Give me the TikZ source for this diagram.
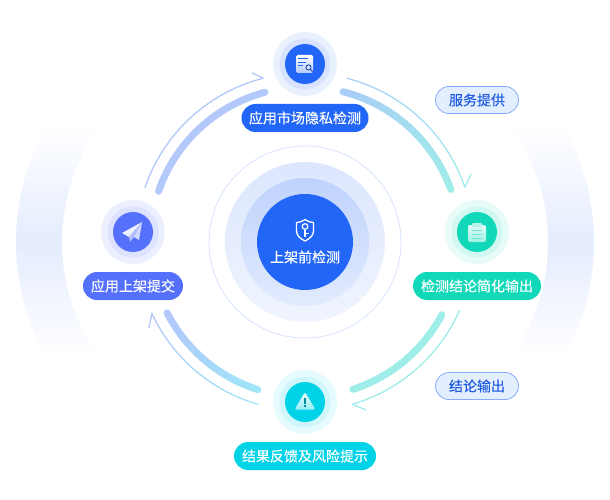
\documentclass[tikz,border=0pt]{standalone}
\usepackage{fontspec}
\setmainfont[FakeBold=0.25]{Noto Sans CJK SC}
\definecolor{blueA}{HTML}{2266F8}
\definecolor{indigoA}{HTML}{5570FB}
\definecolor{tealA}{HTML}{10D8B8}
\definecolor{cyanA}{HTML}{00D3E8}
\definecolor{arcBlue}{HTML}{B3C8FB}
\definecolor{arcSky}{HTML}{A8CEF8}
\definecolor{arcTeal}{HTML}{9FEDE9}
\definecolor{arcCyan}{HTML}{9EE6F8}
\definecolor{tagFill}{HTML}{E3EEFF}
\definecolor{bandMid}{HTML}{E4ECFE}
\tikzset{
  pill/.style={rounded corners=14pt,minimum height=28pt,inner sep=0pt,text=white,font=\fontsize{14}{14}\selectfont},
  tagbox/.style={draw=#1,fill=tagFill,rounded corners=13.5pt,minimum width=83pt,minimum height=27pt,inner sep=0pt,
    text=blueA!90!black,font=\fontsize{14}{14}\selectfont,line width=0.8pt},
  disc/.style n args={2}{circle,fill=#1,minimum size=#2,inner sep=0pt},
  barb/.style={line width=1.3pt,line cap=round}
}
% gradient along a part of the ring round (ctr)
\newcommand{\ringarc}[6]{
  \foreach \i in {0,...,29}{
    \pgfmathsetmacro{\angA}{#2+(#3-(#2))*\i/30}
    \pgfmathsetmacro{\angB}{#2+(#3-(#2))*(\i+1)/30}
    \pgfmathtruncatemacro{\pct}{100*\i/29}
    \draw[line width=#4,line cap=round,color=#6!\pct!#5] ([shift={(\angA:#1)}]ctr) arc[start angle=\angA,end angle=\angB,radius=#1];
  }
}
\begin{document}
\begin{tikzpicture}[x=1pt,y=-1pt]
  \useasboundingbox (0,0) rectangle (610,500);
  \coordinate (ctr) at (305,242);

  % side bands
  \coordinate (bandL) at (252,242);
  \coordinate (bandI) at (261,242);
  \coordinate (bandR) at (358,242);
  \coordinate (bandQ) at (349,242);
  \shade[top color=white,bottom color=white,middle color=bandMid]
    ([shift={(209.7:236)}]bandL) arc[start angle=209.7,end angle=150.3,radius=236]
    -- ([shift={(144:199)}]bandI) arc[start angle=144,end angle=216,radius=199] -- cycle;
  \shade[top color=white,bottom color=white,middle color=bandMid]
    ([shift={(-29.7:236)}]bandR) arc[start angle=-29.7,end angle=29.7,radius=236]
    -- ([shift={(36:199)}]bandQ) arc[start angle=36,end angle=-36,radius=199] -- cycle;

  % middle
  \node[circle,draw=blueA!18,line width=0.8pt,minimum size=192pt,inner sep=0pt] (haloD) at (ctr) {};
  \shade[top color=blueA!16,bottom color=blueA!7] (ctr) circle (80);
  \shade[top color=blueA!29,bottom color=blueA!13] (ctr) circle (64);
  \node[disc={blueA}{96pt}] (haloA) at (ctr) {};
  \node[text=white,font=\fontsize{14}{14}\selectfont] (prelaunch) at (305,257) {上架前检测};
  % shield
  \draw[white,line width=1.3pt,line join=round] (305,219.5) .. controls (301,222) and (299,222.5) .. (296.5,222.5)
    -- (296.5,231) .. controls (296.5,236) and (301,239) .. (305,241)
    .. controls (309,239) and (313.5,236) .. (313.5,231) -- (313.5,222.5)
    .. controls (311,222.5) and (309,222) .. (305,219.5) -- cycle;
  \draw[white,line width=1.2pt] (305,226.5) circle (2.8);
  \draw[white,line width=1.3pt] (305,229.5) -- (305,236.5) (305,233.5) -- (308.5,233.5);

  % arcs, outer ones with a barb
  \ringarc{155}{-75.8}{-19.8}{7pt}{arcSky}{arcTeal}
  \ringarc{169}{-75.6}{-19}{1.3pt}{arcSky}{arcTeal}
  \coordinate (tipA) at (465,187);
  \coordinate (barbA) at (471,174);
  \draw[barb,arcTeal] (tipA) -- (barbA);

  \ringarc{155}{28}{72}{7pt}{arcTeal}{arcTeal}
  \ringarc{169}{24}{73.8}{1.3pt}{arcTeal}{arcTeal}
  \coordinate (tipB) at (352,404);
  \coordinate (barbB) at (366,410);
  \draw[barb,arcTeal] (tipB) -- (barbB);

  \ringarc{155}{107.7}{152.8}{7pt}{arcCyan}{arcBlue}
  \ringarc{169}{106.2}{155}{1.3pt}{arcCyan}{arcBlue}
  \coordinate (tipC) at (152,313);
  \coordinate (barbC) at (149,328);
  \draw[barb,arcBlue] (tipC) -- (barbC);

  \ringarc{155}{199.1}{255}{7pt}{arcBlue}{arcBlue}
  \ringarc{169}{198.7}{255.6}{1.3pt}{arcBlue}{arcBlue}
  \coordinate (tipD) at (263,78);
  \coordinate (barbD) at (252,73);
  \draw[barb,arcBlue] (tipD) -- (barbD);

  % top stage
  \node[disc={blueA!10}{64pt}] (marketA) at (305,64) {};
  \node[disc={blueA!18}{51pt}] (marketB) at (305,64) {};
  \node[disc={blueA}{40pt}] (marketC) at (305,64) {};
  \node[pill,fill=blueA,minimum width=127pt] (market) at (305,118) {应用市场隐私检测};
  \shade[top color=white,bottom color=blueA!35,rounded corners=1.5pt] (296,55) rectangle (313,73);
  \draw[blueA,line width=0.9pt] (298,58.5) -- (308,58.5) (298,62) -- (306,62) (298,65.5) -- (303,65.5);
  \fill[white!80!blueA] (308.5,67.5) circle (4.2);
  \draw[blueA!70!black,line width=0.9pt] (308.5,67.5) circle (2.6) (310.5,69.5) -- (312.5,71.5);

  % right stage
  \node[disc={tealA!10}{64pt}] (verdictA) at (477,232) {};
  \node[disc={tealA!19}{51pt}] (verdictB) at (477,232) {};
  \node[disc={tealA}{40pt}] (verdictC) at (477,232) {};
  \node[pill,fill=tealA,minimum width=128pt] (verdict) at (477,286) {检测结论简化输出};
  \shade[top color=white!88!tealA,bottom color=tealA!40,rounded corners=2pt] (468,225) rectangle (486,242);
  \fill[white!70!tealA,rounded corners=1pt] (472,223) rectangle (482,227);
  \draw[tealA!60,line width=0.9pt] (472,230) -- (482,230) (472,234) -- (482,234) (472,238) -- (482,238);

  % bottom stage
  \node[disc={cyanA!10}{64pt}] (feedbackA) at (305,402) {};
  \node[disc={cyanA!19}{51pt}] (feedbackB) at (305,402) {};
  \node[disc={cyanA}{40pt}] (feedbackC) at (305,402) {};
  \node[pill,fill=cyanA,minimum width=142pt] (feedback) at (305,456) {结果反馈及风险提示};
  \shade[top color=white!90!cyanA,bottom color=cyanA!40,rounded corners=1.5pt] (305,392) -- (315.5,409.5) -- (294.5,409.5) -- cycle;
  \draw[cyanA!65!black,line width=1.7pt] (305,398) -- (305,403.5) (305,405) -- (305,407);

  % left stage
  \node[disc={indigoA!11}{64pt}] (submitA) at (133,232) {};
  \node[disc={indigoA!20}{51pt}] (submitB) at (133,232) {};
  \node[disc={indigoA}{40pt}] (submitC) at (133,232) {};
  \node[pill,fill=indigoA,minimum width=100pt] (submit) at (133,286) {应用上架提交};
  \fill[white!90!indigoA] (142,222) -- (122,233) -- (129,237) -- cycle;
  \fill[white!55!indigoA] (142,222) -- (129,237) -- (130,242) -- (134,237) -- cycle;
  \fill[white!75!indigoA] (142,222) -- (134,237) -- (139,240) -- cycle;

  % tags
  \node[tagbox=blueA!55] (service) at (477,100) {服务提供};
  \node[tagbox=blueA!55] (output) at (477,386) {结论输出};
\end{tikzpicture}
\end{document}
